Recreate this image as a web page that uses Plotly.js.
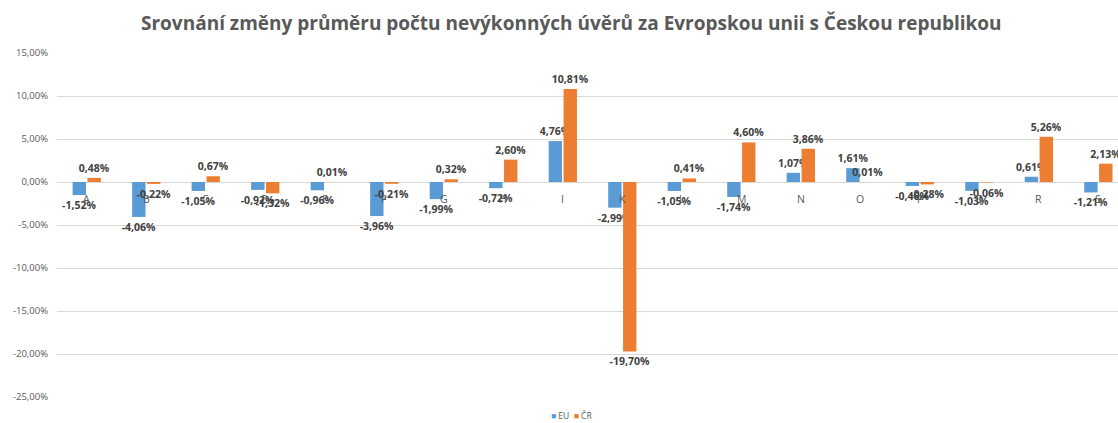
<!DOCTYPE html>
<html>
<head>
<meta charset="utf-8">
<script src="https://cdn.plot.ly/plotly-3.0.1.min.js"></script>
<style>html,body{margin:0;padding:0;background:#fff;}#chart{width:1118px;height:423px;}</style>
</head>
<body>
<div id="chart"></div>
<script>
const categories = ["A","B","C","D","E","F","G","H","I","K","L","M","N","O","P","Q","R","S"];
const euValues = [-1.52,-4.06,-1.05,-0.92,-0.96,-3.96,-1.99,-0.72,4.76,-2.99,-1.05,-1.74,1.07,1.61,-0.46,-1.03,0.61,-1.21];
const crValues = [0.48,-0.22,0.67,-1.32,0.01,-0.21,0.32,2.60,10.81,-19.70,0.41,4.60,3.86,0.01,-0.28,-0.06,5.26,2.13];
const yTicks = [15,10,5,0,-5,-10,-15,-20,-25];
const yTickLabels = ["15,00%","10,00%","5,00%","0,00%","-5,00%","-10,00%","-15,00%","-20,00%","-25,00%"];
const seriesNames = ["EU","ČR"];
const seriesColors = ["#5B9BD5","#ED7D31"];

const labelFont = {family:"Open Sans, sans-serif", size:10.5, color:"#404040"};
const traces = [
  {type:"bar", name:seriesNames[0], x:categories, y:euValues, marker:{color:seriesColors[0]},
   texttemplate:"<b>%{y:.2f}%</b>", textposition:"outside", cliponaxis:false, constraintext:"none",
   textfont:labelFont, hoverinfo:"none"},
  {type:"bar", name:seriesNames[1], x:categories, y:crValues, marker:{color:seriesColors[1]},
   texttemplate:"<b>%{y:.2f}%</b>", textposition:"outside", cliponaxis:false, constraintext:"none",
   textfont:labelFont, hoverinfo:"none"}
];

const annotations = categories.map(c => ({
  x:c, y:0, xref:"x", yref:"y", text:c, showarrow:false, yanchor:"top", yshift:-8,
  font:{family:"Open Sans, sans-serif", size:10.5, color:"#595959"}
}));
// legend drawn as text
annotations.push({
  xref:"paper", yref:"paper", x:0.485, y:-0.055, xanchor:"center", yanchor:"middle", showarrow:false,
  text: seriesNames.map((n,i)=>'<span style="color:'+seriesColors[i]+'">■</span> '+n).join('  '),
  font:{family:"Open Sans, sans-serif", size:8.5, color:"#595959"}
});

const layout = {
  width:1118, height:423,
  margin:{l:57, r:0, t:53, b:26},
  paper_bgcolor:"#fff", plot_bgcolor:"#fff",
  separators:",.",
  title:{text:"<b>Srovnání změny průměru počtu nevýkonných úvěrů za Evropskou unii s Českou republikou</b>",
    x:0.511, xanchor:"center", y:0.945, yanchor:"middle",
    font:{family:"Open Sans, sans-serif", size:19, color:"#595959"}},
  barmode:"group", bargap:0.5, bargroupgap:0.1,
  xaxis:{range:[-0.5,17.33], showticklabels:false, showgrid:false, zeroline:false, showline:false, fixedrange:true},
  yaxis:{range:[-25,15], tickmode:"array", tickvals:yTicks, ticktext:yTickLabels,
    gridcolor:"#d9d9d9", gridwidth:1, zeroline:false, showline:false,
    tickfont:{family:"Open Sans, sans-serif", size:9.5, color:"#595959"}, ticklabelstandoff:8},
  showlegend:false,
  annotations:annotations
};
Plotly.newPlot("chart", traces, layout, {displayModeBar:false, staticPlot:true});
</script>
</body>
</html>
